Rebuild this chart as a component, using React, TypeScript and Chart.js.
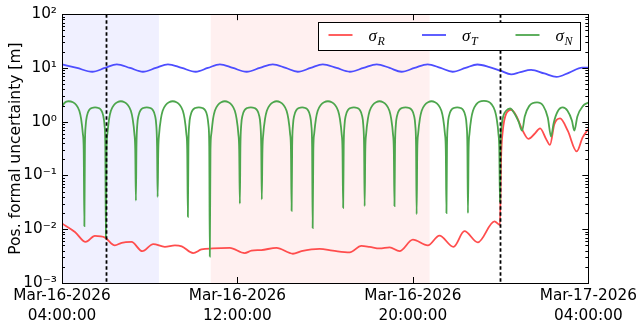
import React, { useEffect, useRef } from 'react';
import { Chart, registerables } from 'chart.js';

Chart.register(...registerables);

// ---- axis ticks ----
const xTickHours = [0, 8, 16, 24];
const xTickDates = ['Mar-16-2026', 'Mar-16-2026', 'Mar-16-2026', 'Mar-17-2026'];
const xTickTimes = ['04:00:00', '12:00:00', '20:00:00', '04:00:00'];
const yTickValues = [1e-3, 1e-2, 1e-1, 1e0, 1e1, 1e2];
const yTickLabels = ['10\u207B\u00B3', '10\u207B\u00B2', '10\u207B\u00B9', '10\u2070', '10\u00B9', '10\u00B2'];

// ---- series (hours after Mar-16-2026 04:00:00, metres) ----
const sigmaRHours = [0, 0.59, 1.08, 1.5, 1.96, 2.41, 2.72, 3.17, 3.66, 4.16, 4.69, 5.15, 5.46, 5.98, 6.36, 6.88, 7.65, 8.33, 8.64, 9.09, 9.78, 10.53, 10.92, 11.75, 12.34, 13.12, 13.65, 14.03, 14.48, 14.94, 15.39, 16.0, 16.68, 17.21, 17.85, 18.35, 18.96, 19.72, 19.97, 20.02, 20.1, 20.25, 20.48, 20.71, 21.01, 21.27, 21.54, 21.8, 22.07, 22.25, 22.45, 22.71, 23.06, 23.47, 23.74, 24.0];
const sigmaRValues = [0.0128, 0.0089, 0.0058, 0.0075, 0.007, 0.005, 0.0056, 0.0058, 0.0039, 0.0053, 0.0047, 0.005, 0.0048, 0.0036, 0.0042, 0.0044, 0.0045, 0.0036, 0.004, 0.0041, 0.0045, 0.0035, 0.0039, 0.0043, 0.004, 0.0037, 0.0049, 0.0047, 0.0044, 0.0046, 0.0039, 0.0064, 0.005, 0.0076, 0.0047, 0.0092, 0.0057, 0.014, 0.012, 0.2, 0.68, 1.4, 1.67, 1.29, 0.68, 0.48, 0.59, 0.75, 0.48, 0.37, 0.9, 1.15, 0.68, 0.28, 0.51, 0.73];

const sigmaTHours = [0, 0.68, 1.38, 1.96, 2.5, 3.1, 3.69, 4.28, 4.83, 5.46, 6.1, 6.65, 7.2, 7.79, 8.42, 9.02, 9.61, 10.2, 10.75, 11.34, 11.89, 12.52, 13.12, 13.75, 14.35, 14.94, 15.48, 16.08, 16.67, 17.26, 17.81, 18.4, 18.94, 19.49, 19.99, 20.48, 20.9, 21.39, 21.99, 22.55, 23.13, 23.72, 24.0];
const sigmaTValues = [11.7, 10.0, 8.5, 10.0, 11.7, 10.0, 8.5, 10.0, 11.7, 10.0, 8.5, 10.0, 11.7, 10.0, 8.5, 10.0, 11.7, 10.0, 8.5, 10.0, 11.7, 10.0, 8.5, 10.0, 11.7, 10.0, 8.5, 10.0, 11.7, 10.0, 8.5, 10.0, 11.6, 10.4, 8.9, 7.6, 8.4, 9.2, 7.9, 6.8, 8.2, 10.1, 10.1];

const sigmaNHours = [
  0, 0.12, 0.29, 0.5, 0.64, 0.79, 0.87, 0.95, 0.99,
  1.02, 1.045, 1.08, 1.14, 1.24, 1.36, 1.51, 1.66, 1.78, 1.88, 1.94, 1.975,
  2.0, 2.03, 2.07, 2.15, 2.23, 2.38, 2.52, 2.685, 2.85, 2.99, 3.14, 3.22, 3.3, 3.34,
  3.37, 3.395, 3.43, 3.49, 3.59, 3.71, 3.865, 4.02, 4.14, 4.24, 4.3, 4.335,
  4.36, 4.39, 4.43, 4.51, 4.59, 4.74, 4.88, 5.05, 5.22, 5.36, 5.51, 5.59, 5.67, 5.71,
  5.74, 5.765, 5.8, 5.86, 5.96, 6.08, 6.24, 6.4, 6.52, 6.62, 6.68, 6.715,
  6.74, 6.77, 6.81, 6.89, 6.97, 7.12, 7.26, 7.425, 7.59, 7.73, 7.88, 7.96, 8.04, 8.08,
  8.11, 8.135, 8.17, 8.23, 8.33, 8.45, 8.61, 8.77, 8.89, 8.99, 9.05, 9.085,
  9.11, 9.14, 9.18, 9.26, 9.34, 9.49, 9.63, 9.79, 9.95, 10.09, 10.24, 10.32, 10.4, 10.44,
  10.47, 10.495, 10.53, 10.59, 10.69, 10.81, 10.95, 11.09, 11.21, 11.31, 11.37, 11.405,
  11.43, 11.46, 11.5, 11.58, 11.66, 11.81, 11.95, 12.125, 12.3, 12.44, 12.59, 12.67, 12.75, 12.79,
  12.82, 12.845, 12.88, 12.94, 13.04, 13.16, 13.31, 13.46, 13.58, 13.68, 13.74, 13.775,
  13.8, 13.83, 13.87, 13.95, 14.03, 14.18, 14.32, 14.48, 14.64, 14.78, 14.93, 15.01, 15.09, 15.13,
  15.16, 15.185, 15.22, 15.28, 15.38, 15.5, 15.665, 15.83, 15.95, 16.05, 16.11, 16.145,
  16.17, 16.2, 16.24, 16.32, 16.4, 16.55, 16.69, 16.85, 17.01, 17.15, 17.3, 17.38, 17.46, 17.5,
  17.53, 17.555, 17.59, 17.65, 17.75, 17.87, 18.02, 18.17, 18.29, 18.39, 18.45, 18.485,
  18.51, 18.54, 18.58, 18.66, 18.74, 18.89, 19.03, 19.24, 19.45, 19.59, 19.74, 19.82, 19.9, 19.94,
  19.97, 19.99, 20.04, 20.13, 20.25, 20.43, 20.62, 20.82, 20.98, 21.1, 21.3, 21.66, 21.95, 22.15, 22.3, 22.42, 22.6, 22.83, 23.05, 23.25, 23.36, 23.5, 23.75, 24.0,
];
const sigmaNValues = [
  1.9, 2.25, 2.4, 2.3, 2.07, 1.6, 1.14, 0.6, 0.3,
  0.0114, 0.35, 0.85, 1.3, 1.65, 1.8, 1.85, 1.8, 1.65, 1.3, 0.85, 0.35,
  0.007, 0.3, 0.6, 1.14, 1.6, 2.07, 2.3, 2.4, 2.3, 2.07, 1.6, 1.14, 0.6, 0.3,
  0.034, 0.35, 0.85, 1.3, 1.65, 1.8, 1.85, 1.8, 1.65, 1.3, 0.85, 0.35,
  0.04, 0.3, 0.6, 1.14, 1.6, 2.07, 2.3, 2.4, 2.3, 2.07, 1.6, 1.14, 0.6, 0.3,
  0.017, 0.35, 0.85, 1.3, 1.65, 1.8, 1.85, 1.8, 1.65, 1.3, 0.85, 0.35,
  0.0031, 0.3, 0.6, 1.14, 1.6, 2.07, 2.3, 2.4, 2.3, 2.07, 1.6, 1.14, 0.6, 0.3,
  0.03, 0.35, 0.85, 1.3, 1.65, 1.8, 1.85, 1.8, 1.65, 1.3, 0.85, 0.35,
  0.036, 0.3, 0.6, 1.14, 1.6, 2.07, 2.3, 2.4, 2.3, 2.07, 1.6, 1.14, 0.6, 0.3,
  0.022, 0.35, 0.85, 1.3, 1.65, 1.8, 1.85, 1.8, 1.65, 1.3, 0.85, 0.35,
  0.0105, 0.3, 0.6, 1.14, 1.6, 2.07, 2.3, 2.4, 2.3, 2.07, 1.6, 1.14, 0.6, 0.3,
  0.025, 0.35, 0.85, 1.3, 1.65, 1.8, 1.85, 1.8, 1.65, 1.3, 0.85, 0.35,
  0.027, 0.3, 0.6, 1.14, 1.6, 2.07, 2.3, 2.4, 2.3, 2.07, 1.6, 1.14, 0.6, 0.3,
  0.027, 0.35, 0.85, 1.3, 1.65, 1.8, 1.85, 1.8, 1.65, 1.3, 0.85, 0.35,
  0.019, 0.3, 0.6, 1.14, 1.6, 2.07, 2.3, 2.4, 2.3, 2.07, 1.6, 1.14, 0.6, 0.3,
  0.02, 0.35, 0.85, 1.3, 1.65, 1.8, 1.85, 1.8, 1.65, 1.3, 0.85, 0.35,
  0.02, 0.3, 0.6, 1.14, 1.6, 2.1, 2.35, 2.45, 2.35, 2.1, 1.6, 1.14, 0.6, 0.3,
  0.032, 0.3, 0.8, 1.3, 1.6, 1.76, 1.45, 1.0, 0.68, 1.25, 1.95, 2.28, 1.95, 1.2, 0.53, 0.95, 1.55, 1.84, 1.6, 1.05, 0.68, 1.25, 1.95, 2.28,
];

// ---- annotations ----
const markerHours = [2.0, 19.98];
const spanStartHours = [0, 6.78];
const spanEndHours = [4.42, 16.76];

const FONT = 'DejaVu Sans';
const SPAN_COLORS = ['rgb(240,240,255)', 'rgb(255,240,240)'];
const RED = 'rgb(255,77,77)';
const BLUE = 'rgb(77,77,255)';
const GREEN = 'rgb(77,166,77)';

const toPoints = (xs: number[], ys: number[]) => xs.map((x, i) => ({ x, y: ys[i] }));

const decorations = {
  id: 'decorations',
  beforeDatasetsDraw(chart: any) {
    const { ctx, chartArea: a, scales } = chart;
    const x = scales.x;
    ctx.save();
    ctx.beginPath();
    ctx.rect(a.left, a.top, a.right - a.left, a.bottom - a.top);
    ctx.clip();
    spanStartHours.forEach((s, i) => {
      const x0 = x.getPixelForValue(s);
      const x1 = x.getPixelForValue(spanEndHours[i]);
      ctx.fillStyle = SPAN_COLORS[i];
      ctx.fillRect(x0, a.top, x1 - x0, a.bottom - a.top);
    });
    ctx.restore();
  },
  afterDatasetsDraw(chart: any) {
    const { ctx, chartArea: a, scales } = chart;
    const x = scales.x;
    const y = scales.y;
    ctx.save();
    ctx.strokeStyle = '#000';
    ctx.lineWidth = 1.8;
    ctx.setLineDash([3.5, 2.5]);
    markerHours.forEach((h) => {
      const px = Math.round(x.getPixelForValue(h)) + 0.5;
      ctx.beginPath();
      ctx.moveTo(px, a.top);
      ctx.lineTo(px, a.bottom);
      ctx.stroke();
    });
    ctx.setLineDash([]);
    ctx.lineWidth = 1;
    ctx.strokeRect(Math.round(a.left) + 0.5, Math.round(a.top) + 0.5, Math.round(a.right - a.left), Math.round(a.bottom - a.top));
    ctx.beginPath();
    yTickValues.forEach((v) => {
      const py = Math.round(y.getPixelForValue(v)) + 0.5;
      ctx.moveTo(a.left, py); ctx.lineTo(a.left + 6, py);
      ctx.moveTo(a.right, py); ctx.lineTo(a.right - 6, py);
    });
    for (let k = 0; k < yTickValues.length - 1; k++) {
      for (let m = 2; m <= 9; m++) {
        const py = Math.round(y.getPixelForValue(m * yTickValues[k])) + 0.5;
        ctx.moveTo(a.left, py); ctx.lineTo(a.left + 3, py);
        ctx.moveTo(a.right, py); ctx.lineTo(a.right - 3, py);
      }
    }
    xTickHours.forEach((h) => {
      const px = Math.round(x.getPixelForValue(h)) + 0.5;
      ctx.moveTo(px, a.bottom); ctx.lineTo(px, a.bottom - 6);
      ctx.moveTo(px, a.top); ctx.lineTo(px, a.top + 6);
    });
    ctx.stroke();

    // legend
    const bw = 262, bh = 28;
    const bx = Math.round(a.right - 8 - bw) + 0.5;
    const by = Math.round(a.top + 8) + 0.5;
    ctx.fillStyle = '#fff';
    ctx.fillRect(bx, by, bw, bh);
    ctx.strokeStyle = '#000';
    ctx.lineWidth = 1;
    ctx.strokeRect(bx, by, bw, bh);
    const entries = [
      { color: RED, sub: 'R' },
      { color: BLUE, sub: 'T' },
      { color: GREEN, sub: 'N' },
    ];
    entries.forEach((e, i) => {
      const ex = bx + 10 + i * 93.5;
      const ly = by + 12.5;
      ctx.strokeStyle = e.color;
      ctx.lineWidth = 1.8;
      ctx.beginPath();
      ctx.moveTo(ex, ly);
      ctx.lineTo(ex + 24, ly);
      ctx.stroke();
      ctx.fillStyle = '#000';
      ctx.textBaseline = 'alphabetic';
      ctx.textAlign = 'left';
      ctx.font = 'italic 17px "Liberation Serif"';
      ctx.fillText('\u03C3', ex + 40, by + 18);
      const w = ctx.measureText('\u03C3').width;
      ctx.font = 'italic 12px "Liberation Serif"';
      ctx.fillText(e.sub, ex + 40 + w + 0.5, by + 22);
    });
    ctx.restore();
  },
};

export default function App() {
  const ref = useRef<HTMLCanvasElement>(null);
  useEffect(() => {
    document.body.style.margin = '0';
    Chart.defaults.font.family = FONT;
    const chart = new Chart(ref.current as HTMLCanvasElement, {
      type: 'line',
      data: {
        datasets: [
          { label: 'sigma_R', data: toPoints(sigmaRHours, sigmaRValues), borderColor: RED, borderWidth: 1.8, pointRadius: 0, cubicInterpolationMode: 'monotone', fill: false, order: 3 },
          { label: 'sigma_T', data: toPoints(sigmaTHours, sigmaTValues), borderColor: BLUE, borderWidth: 1.8, pointRadius: 0, cubicInterpolationMode: 'monotone', fill: false, order: 2 },
          { label: 'sigma_N', data: toPoints(sigmaNHours, sigmaNValues), borderColor: GREEN, borderWidth: 1.8, pointRadius: 0, cubicInterpolationMode: 'monotone', fill: false, order: 1 },
        ],
      },
      options: {
        animation: false,
        responsive: true,
        maintainAspectRatio: false,
        layout: { padding: { left: 0, right: 51, top: 13, bottom: 0 } },
        plugins: { legend: { display: false }, tooltip: { enabled: false } },
        scales: {
          x: {
            type: 'linear',
            min: 0,
            max: 24,
            grid: { display: false, drawTicks: false },
            border: { display: false },
            afterBuildTicks: (scale: any) => { scale.ticks = xTickHours.map((v) => ({ value: v })); },
            afterFit: (scale: any) => { scale.height = 44; },
            ticks: {
              autoSkip: false,
              maxRotation: 0,
              minRotation: 0,
              padding: 3,
              color: '#000',
              font: { size: 15.3, family: FONT, lineHeight: 1.3 },
              callback: (_v: any, i: number) => [xTickDates[i], xTickTimes[i]],
            },
          },
          y: {
            type: 'logarithmic',
            min: 1e-3,
            max: 1e2,
            grid: { display: false, drawTicks: false },
            border: { display: false },
            afterBuildTicks: (scale: any) => { scale.ticks = yTickValues.map((v) => ({ value: v })); },
            afterFit: (scale: any) => { scale.width = 62; },
            ticks: {
              padding: 5,
              color: '#000',
              font: { size: 15.3, family: FONT },
              callback: (_v: any, i: number) => yTickLabels[i],
            },
            title: {
              display: true,
              text: 'Pos. formal uncertainty [m]',
              color: '#000',
              font: { size: 15.5, family: FONT },
              padding: { top: 6.5, bottom: 0 },
            },
          },
        },
      },
      plugins: [decorations],
    } as any);
    return () => chart.destroy();
  }, []);
  return (
    <div style={{ position: 'relative', width: 640, height: 327 }}>
      <canvas ref={ref} />
    </div>
  );
}
